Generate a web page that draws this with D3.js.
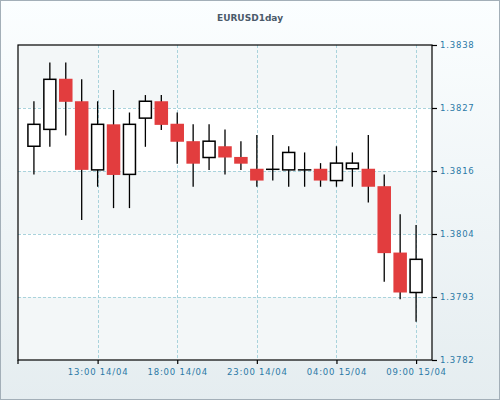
<!DOCTYPE html>
<html>
<head>
<meta charset="utf-8">
<script src="https://cdn.jsdelivr.net/npm/d3@7"></script>
<style>
  html, body { margin: 0; padding: 0; background: #fff; }
  svg { display: block; }
</style>
</head>
<body>
<svg id="chart" width="500" height="400"></svg>
<script>
// ---- data ----
const title = "EURUSD1day";
const times = ["2014-04-14T09:00","2014-04-14T10:00","2014-04-14T11:00","2014-04-14T12:00","2014-04-14T13:00",
  "2014-04-14T14:00","2014-04-14T15:00","2014-04-14T16:00","2014-04-14T17:00","2014-04-14T18:00",
  "2014-04-14T19:00","2014-04-14T20:00","2014-04-14T21:00","2014-04-14T22:00","2014-04-14T23:00",
  "2014-04-15T00:00","2014-04-15T01:00","2014-04-15T02:00","2014-04-15T03:00","2014-04-15T04:00",
  "2014-04-15T05:00","2014-04-15T06:00","2014-04-15T07:00","2014-04-15T08:00","2014-04-15T09:00"];
const opens  = [1.38200,1.38230,1.38320,1.38280,1.38158,1.38239,1.38150,1.38250,1.38280,1.38240,
                1.38209,1.38180,1.38200,1.38181,1.38160,1.38159,1.38158,1.38158,1.38160,1.38139,
                1.38160,1.38160,1.38129,1.38011,1.37940];
const highs  = [1.38280,1.38349,1.38349,1.38319,1.38280,1.38300,1.38260,1.38291,1.38291,1.38260,
                1.38239,1.38239,1.38230,1.38209,1.38220,1.38220,1.38200,1.38189,1.38170,1.38200,
                1.38189,1.38220,1.38150,1.38079,1.38060];
const lows   = [1.38150,1.38199,1.38219,1.38069,1.38128,1.38090,1.38090,1.38199,1.38229,1.38169,
                1.38128,1.38158,1.38150,1.38158,1.38128,1.38139,1.38128,1.38128,1.38128,1.38128,
                1.38128,1.38100,1.37959,1.37928,1.37888];
const closes = [1.38239,1.38319,1.38279,1.38158,1.38239,1.38149,1.38239,1.38280,1.38238,1.38208,
                1.38169,1.38209,1.38180,1.38169,1.38139,1.38159,1.38189,1.38158,1.38139,1.38170,
                1.38170,1.38128,1.38010,1.37940,1.37999];
const xDomain = ["2014-04-14T08:00","2014-04-15T10:00"];
const xTicks = ["2014-04-14T13:00","2014-04-14T18:00","2014-04-14T23:00","2014-04-15T04:00","2014-04-15T09:00"];
const xTickLabels = ["13:00 14/04","18:00 14/04","23:00 14/04","04:00 15/04","09:00 15/04"];
const yDomain = [1.3782, 1.3838];
const yTicks = [1.3782, 1.37932, 1.38044, 1.38156, 1.38268, 1.3838];

// ---- layout ----
const W = 500, H = 400;
const m = {left: 18, right: 68, top: 45, bottom: 40};
const svg = d3.select("#chart");
const parse = d3.utcParse("%Y-%m-%dT%H:%M");

const defs = svg.append("defs");
const grad = defs.append("linearGradient").attr("id","bg").attr("x1",0).attr("y1",0).attr("x2",0).attr("y2",1);
grad.append("stop").attr("offset","0%").attr("stop-color","#fbfeff");
grad.append("stop").attr("offset","100%").attr("stop-color","#e5edf0");

svg.append("rect").attr("x",0.5).attr("y",0.5).attr("width",W-1).attr("height",H-1)
  .attr("fill","url(#bg)").attr("stroke","#a3afb8").attr("stroke-width",1);

const x = d3.scaleUtc().domain(xDomain.map(parse)).range([m.left, W - m.right]);
const y = d3.scaleLinear().domain(yDomain).range([H - m.bottom, m.top]);

// bands
const bands = d3.pairs(yTicks);
svg.append("g").selectAll("rect").data(bands).join("rect")
  .attr("x", m.left).attr("width", x.range()[1] - x.range()[0])
  .attr("y", d => y(d[1])).attr("height", d => y(d[0]) - y(d[1]))
  .attr("fill", (d,i) => i % 2 === 0 ? "#f3f7f8" : "#ffffff");

// grid
const grid = svg.append("g").attr("stroke","#a9d3dc").attr("stroke-dasharray","3,2").attr("stroke-width",1);
grid.selectAll("line.h").data(yTicks.slice(1,-1)).join("line").attr("class","h")
  .attr("x1", m.left).attr("x2", x.range()[1])
  .attr("y1", d => Math.round(y(d))+0.5).attr("y2", d => Math.round(y(d))+0.5);
grid.selectAll("line.v").data(xTicks.map(parse)).join("line").attr("class","v")
  .attr("y1", m.top).attr("y2", y.range()[0])
  .attr("x1", d => Math.round(x(d))+0.5).attr("x2", d => Math.round(x(d))+0.5);

// axes
const axisFont = "'DejaVu Sans', Verdana, sans-serif";
const xAxis = d3.axisBottom(x).tickValues(xTicks.map(parse))
  .tickFormat((d,i) => xTickLabels[i]).tickSize(4).tickSizeOuter(0).tickPadding(5);
const gx = svg.append("g").attr("transform", `translate(0,${y.range()[0]})`).call(xAxis);
gx.select(".domain").remove();
gx.selectAll("line").attr("stroke","#000").attr("stroke-width",1.2);
gx.selectAll("text").attr("fill","#2b79a6").style("font-family",axisFont)
  .style("font-size","8.5px").style("letter-spacing","0.8px");
// outer tick at start
gx.append("line").attr("x1", x.range()[0]).attr("x2", x.range()[0]).attr("y1",0).attr("y2",4)
  .attr("stroke","#000").attr("stroke-width",1.2);

const yAxis = d3.axisRight(y).tickValues(yTicks).tickFormat(d3.format(".4f"))
  .tickSize(5).tickSizeOuter(0).tickPadding(3);
const gy = svg.append("g").attr("transform", `translate(${x.range()[1]},0)`).call(yAxis);
gy.select(".domain").remove();
gy.selectAll("line").attr("stroke","#000").attr("stroke-width",1.2);
gy.selectAll("text").attr("fill","#2b79a6").style("font-family",axisFont)
  .style("font-size","8.5px").style("letter-spacing","0.8px");

// frame
svg.append("rect").attr("x", m.left).attr("y", m.top)
  .attr("width", x.range()[1]-x.range()[0]).attr("height", y.range()[0]-y.range()[1])
  .attr("fill","none").attr("stroke","#000").attr("stroke-width",1.2);

// candles
const data = times.map((t,i) => ({t: parse(t), o: opens[i], h: highs[i], l: lows[i], c: closes[i]}));
const bw = 12;
const g = svg.append("g");
g.selectAll("line.wick").data(data).join("line").attr("class","wick")
  .attr("x1", d => x(d.t)).attr("x2", d => x(d.t))
  .attr("y1", d => y(d.h)).attr("y2", d => y(d.l))
  .attr("stroke","#000").attr("stroke-width",1.3);
g.selectAll("rect.body").data(data.filter(d => Math.abs(d.o - d.c) > 0.000015)).join("rect").attr("class","body")
  .attr("x", d => x(d.t) - (d.c > d.o ? bw/2 : (bw+1.5)/2))
  .attr("width", d => d.c > d.o ? bw : bw + 1.5)
  .attr("y", d => y(Math.max(d.o,d.c)))
  .attr("height", d => Math.abs(y(d.o) - y(d.c)))
  .attr("fill", d => d.c > d.o ? "#ffffff" : "#e23d3e")
  .attr("stroke", d => d.c > d.o ? "#000" : "none")
  .attr("stroke-width", 1.5);
g.selectAll("line.doji").data(data.filter(d => Math.abs(d.o - d.c) <= 0.000015)).join("line").attr("class","doji")
  .attr("x1", d => x(d.t) - (bw+1.5)/2).attr("x2", d => x(d.t) + (bw+1.5)/2)
  .attr("y1", d => y((d.o+d.c)/2)).attr("y2", d => y((d.o+d.c)/2))
  .attr("stroke","#000").attr("stroke-width",1.5);

// title
svg.append("text").attr("x", W/2).attr("y", 21).attr("text-anchor","middle")
  .style("font-family","'DejaVu Sans', Verdana, sans-serif").style("font-weight","bold")
  .style("font-size","9px").attr("fill","#4a5a6a").text(title);
</script>
</body>
</html>
